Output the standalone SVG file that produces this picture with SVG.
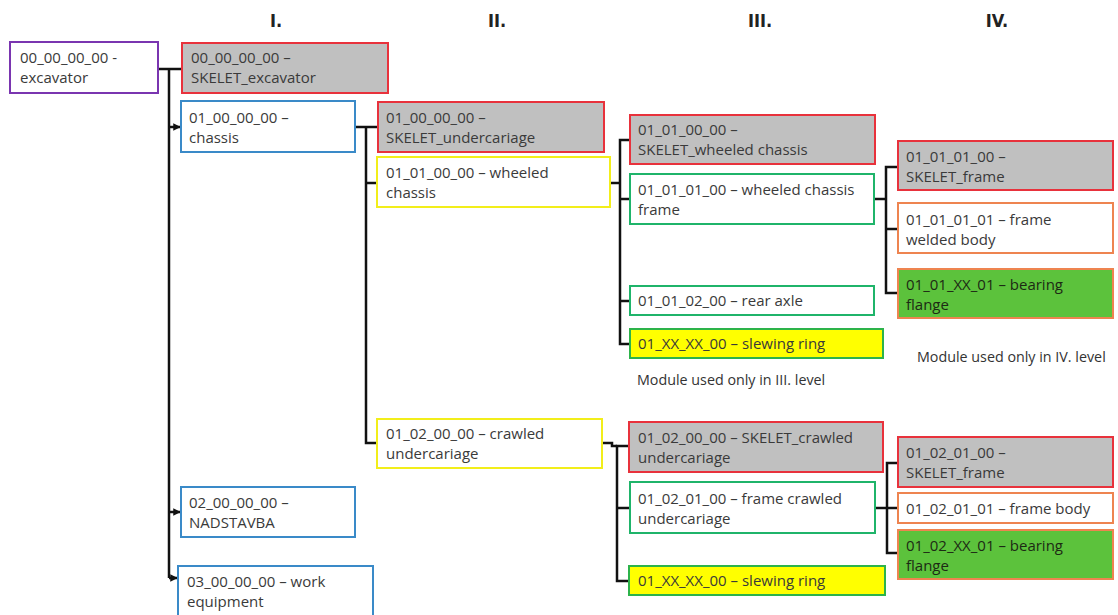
<svg xmlns="http://www.w3.org/2000/svg" width="1118" height="615" viewBox="0 0 1118 615">
<style>
text{font-family:"Open Sans","Liberation Sans",sans-serif;font-size:15px;fill:#3a3a3a}
.hdr{font-family:"DejaVu Sans Condensed","Liberation Sans",sans-serif;font-stretch:condensed;font-weight:bold;font-size:18px;fill:#222;text-anchor:middle}
rect{stroke-width:2}
.purple{fill:#fff;stroke:#7a35b0}
.skel{fill:#c0c0c0;stroke:#e8323c}
.blue{fill:#fff;stroke:#3a8ac8}
.yel{fill:#fff;stroke:#f2ee1a}
.grn{fill:#fff;stroke:#1fb46a}
.ring{fill:#ffff00;stroke:#2db34a}
.org{fill:#fff;stroke:#ee8450}
.flange{fill:#5cc23c;stroke:#ee8450}
.dk{fill:#1c2a14}
.note{fill:#333;font-size:14.3px}
#connectors path{fill:none;stroke:#111;stroke-width:2.5}
</style>
<defs>
<marker id="arr" viewBox="0 0 10 10" refX="9" refY="5" markerWidth="3" markerHeight="3" orient="auto" markerUnits="strokeWidth">
<path d="M0,0L10,5L0,10z" fill="#111"/>
</marker>
</defs>

<text class="hdr" x="276" y="27">I.</text>
<text class="hdr" x="497" y="27">II.</text>
<text class="hdr" x="760" y="27">III.</text>
<text class="hdr" x="997" y="27">IV.</text>

<g id="connectors">
<path d="M158,69H182"/>
<path d="M169,69V578"/>
<path d="M169,127H180" marker-end="url(#arr)"/>
<path d="M169,512H180" marker-end="url(#arr)"/>
<path d="M169,578H177" marker-end="url(#arr)"/>
<path d="M355,127H378"/>
<path d="M366,127V443H377"/>
<path d="M366,183H377"/>
<path d="M610,183H620"/>
<path d="M630,140H620V344H630"/>
<path d="M620,199H630"/>
<path d="M620,301H630"/>
<path d="M874,199H886"/>
<path d="M898,167H886V293H898"/>
<path d="M886,229H898"/>
<path d="M602,443H612V446H617"/>
<path d="M629,446H617V581H629"/>
<path d="M617,508H630"/>
<path d="M875,508H898"/>
<path d="M898,463H887V553H898"/>
</g>

<g id="n_root"><rect class="purple" x="10" y="42" width="148" height="51"/><text x="20" y="63">00_00_00_00 -</text><text x="20" y="83">excavator</text></g>
<g id="n_skel_exc"><rect class="skel" x="182" y="43" width="206" height="50"/><text x="191" y="63">00_00_00_00 –</text><text x="191" y="83">SKELET_excavator</text></g>
<g id="n_chassis"><rect class="blue" x="181" y="101" width="174" height="51"/><text x="189" y="123">01_00_00_00 –</text><text x="189" y="143">chassis</text></g>
<g id="n_skel_under"><rect class="skel" x="378" y="102" width="226" height="50"/><text x="386" y="123">01_00_00_00 –</text><text x="386" y="143">SKELET_undercariage</text></g>
<g id="n_wheeled"><rect class="yel" x="377" y="157" width="233" height="50"/><text x="386" y="178">01_01_00_00 – wheeled</text><text x="386" y="198">chassis</text></g>
<g id="n_skel_wheeled"><rect class="skel" x="630" y="115" width="245" height="49"/><text x="638" y="135">01_01_00_00 –</text><text x="638" y="155">SKELET_wheeled chassis</text></g>
<g id="n_wframe"><rect class="grn" x="630" y="174" width="244" height="50"/><text x="638" y="195">01_01_01_00 – wheeled chassis</text><text x="638" y="215">frame</text></g>
<g id="n_axle"><rect class="grn" x="630" y="286" width="244" height="29"/><text x="638" y="306">01_01_02_00 – rear axle</text></g>
<g id="n_ring1"><rect class="ring" x="630" y="329" width="253" height="29"/><text x="638" y="349">01_XX_XX_00 – slewing ring</text></g>
<g id="n_skel_frame1"><rect class="skel" x="898" y="141" width="215" height="49"/><text x="906" y="162">01_01_01_00 –</text><text x="906" y="182">SKELET_frame</text></g>
<g id="n_welded"><rect class="org" x="898" y="203" width="215" height="50"/><text x="906" y="225">01_01_01_01 – frame</text><text x="906" y="245">welded body</text></g>
<g id="n_flange1"><rect class="flange" x="898" y="269" width="215" height="49"/><text class="dk" x="906" y="290">01_01_XX_01 – bearing</text><text class="dk" x="906" y="310">flange</text></g>
<text class="note" x="637" y="385">Module used only in III. level</text>
<text class="note" x="917" y="362">Module used only in IV. level</text>

<g id="n_crawled"><rect class="yel" x="377" y="419" width="225" height="49"/><text x="386" y="439">01_02_00_00 – crawled</text><text x="386" y="459">undercariage</text></g>
<g id="n_skel_crawled"><rect class="skel" x="629" y="422" width="254" height="50"/><text x="638" y="443">01_02_00_00 – SKELET_crawled</text><text x="638" y="463">undercariage</text></g>
<g id="n_cframe"><rect class="grn" x="630" y="482" width="245" height="51"/><text x="638" y="504">01_02_01_00 – frame crawled</text><text x="638" y="524">undercariage</text></g>
<g id="n_ring2"><rect class="ring" x="629" y="566" width="256" height="29"/><text x="638" y="586">01_XX_XX_00 – slewing ring</text></g>
<g id="n_skel_frame2"><rect class="skel" x="898" y="437" width="215" height="50"/><text x="906" y="458">01_02_01_00 –</text><text x="906" y="478">SKELET_frame</text></g>
<g id="n_fbody"><rect class="org" x="898" y="493" width="215" height="30"/><text x="906" y="514">01_02_01_01 – frame body</text></g>
<g id="n_flange2"><rect class="flange" x="898" y="530" width="215" height="49"/><text class="dk" x="906" y="551">01_02_XX_01 – bearing</text><text class="dk" x="906" y="571">flange</text></g>

<g id="n_nadstavba"><rect class="blue" x="181" y="487" width="174" height="50"/><text x="189" y="508">02_00_00_00 –</text><text x="189" y="528">NADSTAVBA</text></g>
<g id="n_work"><rect class="blue" x="178" y="566" width="195" height="54"/><text x="187" y="587">03_00_00_00 – work</text><text x="187" y="607">equipment</text></g>
</svg>
